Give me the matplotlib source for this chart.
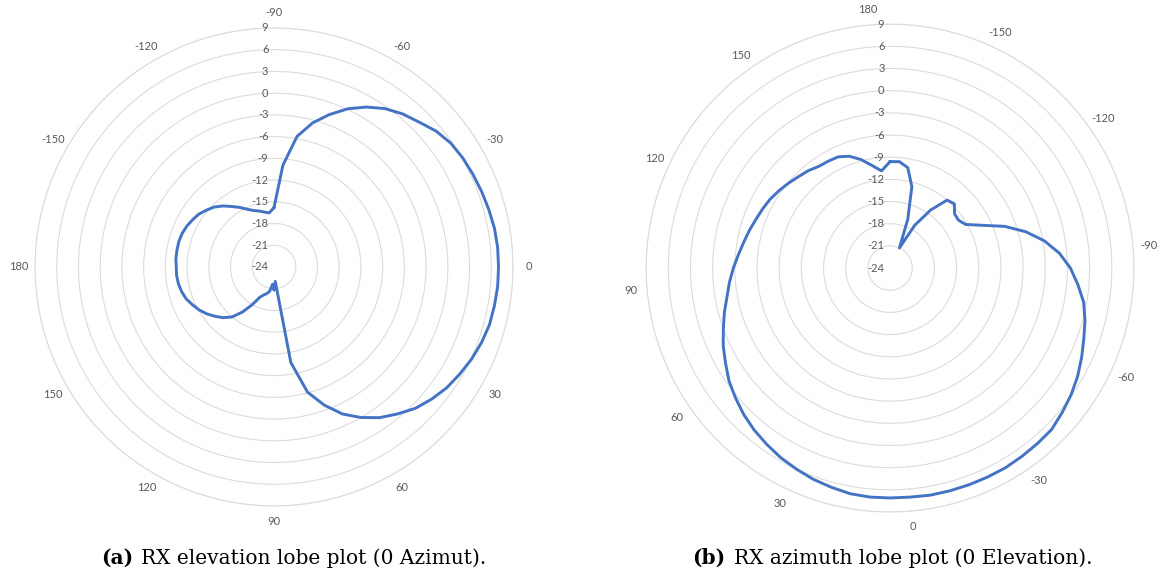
import numpy as np
import matplotlib.pyplot as plt
from matplotlib.offsetbox import TextArea, HPacker, AnchoredOffsetbox
from matplotlib.transforms import ScaledTranslation

# (a) elevation cut, angle in degrees, gain in dB
elev_angles = [-90, -85, -80, -75, -70, -65, -60, -55, -50, -45, -40, -35,
               -30, -25, -20, -15, -10, -5, 0, 5, 10, 15, 20, 25,
               30, 35, 40, 45, 50, 55, 60, 65, 70, 75, 80, 85,
               90, 95, 100, 105, 110, 115, 120, 125, 130, 135, 140, 145,
               150, 155, 160, 165, 170, 175, 180, 185, 190, 195, 200, 205,
               210, 215, 220, 225, 230, 235, 240, 245, 250, 255, 260, 265]
elev_gain = [-15.8, -9.9, -5.7, -3.4, -1.6, 0.1, 1.5, 2.7, 3.6, 4.3, 5.2, 5.8,
             6.1, 6.3, 6.5, 6.7, 6.9, 7.0, 7.0, 7.0, 6.9, 6.8, 6.5, 6.1,
             5.6, 5.1, 4.4, 3.6, 2.5, 1.4, 0.0, -1.6, -3.7, -6.1, -10.6, -22.0,
             -20.8, -21.6, -20.6, -20.2, -19.9, -19.4, -18.0, -16.4, -15.0, -14.1, -13.4, -12.7,
             -12.1, -11.6, -11.1, -10.8, -10.6, -10.5, -10.5, -10.4, -10.4, -10.4, -10.5, -10.7,
             -11.0, -11.3, -11.8, -12.3, -13.0, -13.8, -14.5, -15.2, -15.7, -16.0, -16.3, -16.5]

# (b) azimuth cut
azim_angles = [-175, -170, -165, -160, -155, -150, -145, -140, -135, -130, -125, -120,
               -115, -110, -105, -100, -95, -90, -85, -80, -75, -70, -65, -60,
               -55, -50, -45, -40, -35, -30, -25, -20, -15, -10, -5, 0,
               5, 10, 15, 20, 25, 30, 35, 40, 45, 50, 55, 60,
               65, 70, 75, 80, 85, 90, 95, 100, 105, 110, 115, 120,
               125, 130, 135, 140, 145, 150, 155, 160, 165, 170, 175, 180]
azim_gain = [-9.6, -9.55, -10.2, -12.6, -17.0, -21.0, -17.3, -14.4, -12.0, -11.7, -12.6, -12.7,
             -12.2, -10.3, -7.5, -5.0, -2.8, -1.0, 0.4, 1.5, 2.6, 3.3, 3.9, 4.6,
             5.3, 5.9, 6.4, 6.9, 7.0, 7.1, 7.2, 7.2, 7.2, 7.2, 7.2, 7.1,
             7.1, 7.1, 7.0, 6.7, 6.4, 6.0, 5.6, 5.1, 4.6, 4.0, 3.3, 2.6,
             1.7, 0.9, 0.0, -0.8, -1.6, -2.2, -2.8, -3.4, -3.9, -4.3, -4.7, -5.0,
             -5.3, -5.7, -6.1, -6.5, -6.8, -7.2, -7.3, -7.4, -7.9, -8.8, -9.9, -10.8]

r_ticks = [-24, -21, -18, -15, -12, -9, -6, -3, 0, 3, 6, 9]
theta_ticks = [180, -150, -120, -90, -60, -30, 0, 30, 60, 90, 120, 150]

line_color = "#4472C4"
grid_color = "#dcdcdc"
text_color = "#595959"
label_font = "Lato"


def rad(deg):
    # keep everything inside one turn so the polar axes stays a full circle
    return np.deg2rad(np.mod(deg, 360))


def radar(ax, angles, gain, top_angle):
    a = rad(np.array(angles + angles[:1]))
    g = gain + gain[:1]
    ax.plot(a, g, color=line_color, linewidth=2.1, zorder=3)

    ax.set_xlim(0, 2 * np.pi)
    ax.set_ylim(r_ticks[0], r_ticks[-1])
    ax.set_yticks(r_ticks)
    ax.set_yticklabels([])
    ax.yaxis.grid(True, color=grid_color, linewidth=0.8)
    ax.xaxis.grid(False)
    ax.spines["polar"].set_color(grid_color)
    ax.spines["polar"].set_linewidth(0.8)

    ax.set_xticks(rad(np.array(theta_ticks)))
    ax.set_xticklabels([str(t) for t in theta_ticks], fontsize=8,
                       color=text_color, family=label_font)
    ax.tick_params(axis="x", pad=4.5, length=0)

    # value labels run up the first category spoke, left of it
    shift = ax.transData + ScaledTranslation(-4 / 72, 0, ax.figure.dpi_scale_trans)
    for r in r_ticks:
        ax.text(rad(top_angle), r, str(r), transform=shift,
                ha="right", va="center", fontsize=8, color=text_color,
                family=label_font)


def caption(fig, x, y, tag, text):
    parts = HPacker(children=[
        TextArea(tag, textprops=dict(fontsize=14.5, fontweight="bold",
                                     family="DejaVu Serif", color="black")),
        TextArea(text, textprops=dict(fontsize=14.5, family="DejaVu Serif",
                                      color="black")),
    ], align="baseline", pad=0, sep=6)
    box = AnchoredOffsetbox(loc="center", child=parts, frameon=False, pad=0,
                            bbox_to_anchor=(x, y), bbox_transform=fig.transFigure,
                            borderpad=0)
    fig.add_artist(box)


fig = plt.figure(figsize=(11.63, 5.76), dpi=100)

ax1 = fig.add_axes([0.0301, 0.1215, 0.411, 0.830], projection="polar")
ax1.set_theta_zero_location("E")
ax1.set_theta_direction(-1)
radar(ax1, elev_angles, elev_gain, -90)

ax2 = fig.add_axes([0.5555, 0.1111, 0.4196, 0.847], projection="polar")
ax2.set_theta_zero_location("S", offset=5)
ax2.set_theta_direction(-1)
radar(ax2, azim_angles, azim_gain, -175)

caption(fig, 0.2524, 0.031, "(a)", "RX elevation lobe plot (0 Azimut).")
caption(fig, 0.767, 0.031, "(b)", "RX azimuth lobe plot (0 Elevation).")

fig.savefig("out.png", dpi=100)
